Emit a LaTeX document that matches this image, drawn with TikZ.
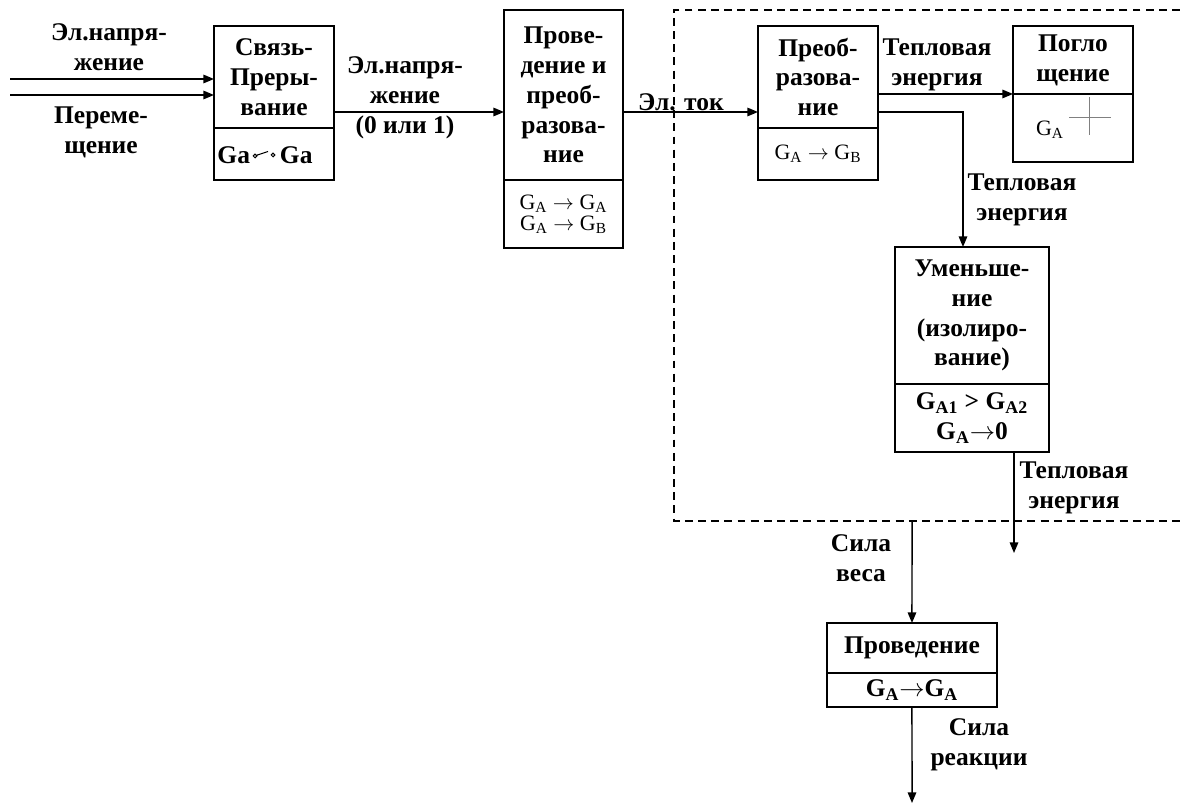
\documentclass[tikz,border=0pt]{standalone}
\usepackage{fontspec}
\setmainfont{Liberation Serif}
\usetikzlibrary{positioning,arrows.meta}
\tikzset{%
  flow/.style     = { -{Triangle[length=6pt, width=4.8pt]}, line width=0.85pt, draw=black },
  pbox/.style 2 args = { draw, line width=0.7pt, inner sep=0pt, outer sep=0pt, align=center,
    minimum width=#1, minimum height=#2 },
  lbl/.style      = { align=center, inner sep=0pt, font=\lblfont },
  frm/.style      = { align=center, font=\frmfont },
  sysline/.style  = { dash pattern=on 4.5pt off 3pt, line width=0.7pt },
}
\newcommand{\lblfont}{\fontsize{14.5}{17}\selectfont\bfseries}
\newcommand{\frmfont}{\fontsize{12.5}{12}\selectfont}
\newcommand{\ga}[1]{G\textsubscript{#1}}
\newcommand{\toarr}{\ensuremath{\rightarrow}}

\begin{document}
\begin{tikzpicture}[x=0.02cm, y=-0.02cm]
    \useasboundingbox (0,0) rectangle (1180,804);
    % system boundary ------------------------------------------------------------------------------
    \draw[sysline] (1180,10) -- (674,10) -- (674,521) -- (1180,521);
    % nodes ----------------------------------------------------------------------------------------
    % function boxes: upper part (p) and lower part (g)
    \node(p1) [pbox={2.4cm}{2.04cm}, anchor=north west, font=\lblfont] at (214,26) {Связь-\\Преры-\\вание};
    \node(g1) [pbox={2.4cm}{1.04cm}, below=0pt of p1] {};
    \node(p2) [pbox={2.38cm}{3.4cm}, anchor=north west, font=\lblfont] at (504,10) {Прове-\\дение и\\преоб-\\разова-\\ние};
    \node(g2) [pbox={2.38cm}{1.36cm}, below=0pt of p2, font=\frmfont] {\ga{A} \toarr{} \ga{A}\\\ga{A} \toarr{} \ga{B}};
    \node(p3) [pbox={2.4cm}{2.04cm}, anchor=north west, font=\lblfont] at (758,26) {Преоб-\\разова-\\ние};
    \node(g3) [pbox={2.4cm}{1.04cm}, below=0pt of p3, font=\frmfont] {\ga{A} \toarr{} \ga{B}};
    \node(p4) [pbox={2.4cm}{1.36cm}, anchor=north west, font=\lblfont] at (1013,26) {Погло\\щение};
    \node(g4) [pbox={2.4cm}{1.36cm}, below=0pt of p4] {};
    \node(p5) [pbox={3.08cm}{2.74cm}, anchor=north west, font=\lblfont] at (895,247) {Уменьше-\\ние\\(изолиро-\\вание)};
    \node(g5) [pbox={3.08cm}{1.36cm}, below=0pt of p5, font=\lblfont] {\ga{A1} > \ga{A2}\\\ga{A}\toarr{}0};
    \node(p6) [pbox={3.4cm}{1.0cm}, anchor=north west, font=\lblfont] at (827,623) {Проведение};
    \node(g6) [pbox={3.4cm}{0.68cm}, below=0pt of p6, font=\lblfont] {\ga{A}\toarr{}\ga{A}};
    % texts inside lower parts
    \node(s1) [font=\lblfont] at (265,155) {Ga\hspace{0.6cm}Ga};
    \node(s4) [frm] at (1050,130) {\ga{A}};
    \draw[line width=0.6pt] (255,156) circle[radius=1pt] (256.5,155.3) -- (268,151.5) (273,155) circle[radius=1pt];
    \draw[gray, line width=0.5pt] (1069,117) -- (1111,117) (1089,97) -- (1089,135);
    % free ends
    \coordinate (i1) at (10,79);
    \coordinate (i2) at (10,95);
    \coordinate (r1) at (0,112);
    \coordinate (o5) at (1014,553);
    \coordinate (w6) at (912,521);
    \coordinate (o6) at (912,803);
    % labels
    \node(l1) [lbl] at (109,47)   {Эл.напря-\\жение};
    \node(l2) [lbl] at (101,132)  {Переме-\\щение};
    \node(l3) [lbl] at (405,98)   {Эл.напря-\\жение\\(0 или 1)};
    \node(l4) [lbl] at (681,102)  {Эл. ток};
    \node(l5) [lbl] at (937,65)   {Тепловая\\энергия};
    \node(l6) [lbl] at (1022,200) {Тепловая\\энергия};
    \node(l7) [lbl] at (1074,488) {Тепловая\\энергия};
    \node(l8) [lbl] at (861,558)  {Сила\\веса};
    \node(l9) [lbl] at (979,745)  {Сила\\реакции};
    % arrows ---------------------------------------------------------------------------------------
    \draw[flow] (i1) -- (i1 -| p1.west);
    \draw[flow] (i2) -- (i2 -| p1.west);
    \draw[flow] (p1.east |- r1) -- (p2.west |- r1);
    \draw[flow] (p2.east |- r1) -- (p3.west |- r1);
    \draw[flow] (p3.east |- p4.south) -- (p4.south west);
    \draw[flow] (p3.east |- r1) -| ([xshift=-0.18cm]p5.north);
    \draw[flow] (g5.south -| o5) -- (o5);
    \draw[flow] (w6) -- (p6.north);
    \draw[flow] (g6.south) -- (o6);
\end{tikzpicture}
\end{document}
